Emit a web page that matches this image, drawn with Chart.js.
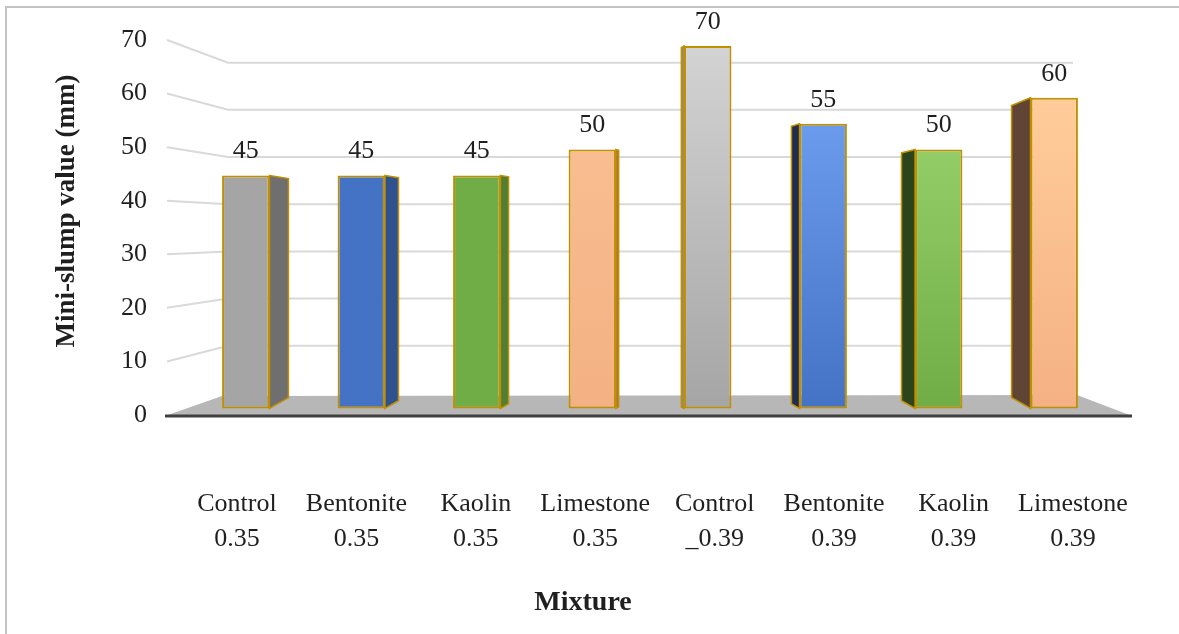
<!DOCTYPE html>
<html>
<head>
<meta charset="UTF-8" />
<title>Mini-slump value by mixture</title>
<script src="https://cdn.jsdelivr.net/npm/chart.js"></script>
<style>
  body { margin: 0; background: #fff; }
  #wrap { width: 1179px; height: 634px; }
</style>
</head>
<body>
<div id="wrap"><canvas id="chart" width="1179" height="634"></canvas></div>
<script>
const categories = [
  ["Control", "0.35"], ["Bentonite", "0.35"], ["Kaolin", "0.35"], ["Limestone", "0.35"],
  ["Control", "_0.39"], ["Bentonite", "0.39"], ["Kaolin", "0.39"], ["Limestone", "0.39"]
];
const slumpValues = [45, 45, 45, 50, 70, 55, 50, 60];
const yTicks = [0, 10, 20, 30, 40, 50, 60, 70];
const yTitle = "Mini-slump value (mm)";
const xTitle = "Mixture";

// front face gradient (top -> bottom) and side face colour for each bar
const frontTop = ["#a5a5a5", "#4472c4", "#70ad47", "#f8bd90", "#d3d3d3", "#6b9bec", "#93cd68", "#ffcc9a"];
const frontBottom = ["#a5a5a5", "#4472c4", "#70ad47", "#f4b183", "#a5a5a5", "#4472c4", "#70ad47", "#f5b183"];
const sideColors = ["#6f6f6f", "#2f528f", "#507e32", "#b07040", "#8a8a8a", "#1f2d4f", "#2c441b", "#614534"];
const gold = "#c09000";
const serif = "'Liberation Serif', 'Times New Roman', serif";
const textColor = "#1f1f1f";

const depthPlugin = {
  id: "depth",
  beforeDraw(chart) {
    const c = chart.ctx;
    c.save();
    c.fillStyle = "#fff";
    c.fillRect(0, 0, chart.width, chart.height);
    c.strokeStyle = "#c3c3c3";
    c.lineWidth = 2;
    c.beginPath();
    c.moveTo(6, chart.height);
    c.lineTo(6, 7);
    c.lineTo(chart.width, 7);
    c.stroke();
    c.restore();
  },
  beforeDatasetsDraw(chart) {
    const c = chart.ctx;
    const area = chart.chartArea;
    const y2 = chart.scales.y2;
    const backZero = area.bottom - 22;
    const backOf = (v) => backZero - (area.bottom - y2.getPixelForValue(v)) * 0.881;
    c.save();

    // back wall gridlines, bent at the left wall
    c.strokeStyle = "#d9d9d9";
    c.lineWidth = 2;
    yTicks.slice(1).forEach((v) => {
      c.beginPath();
      c.moveTo(area.left - 21, y2.getPixelForValue(v));
      c.lineTo(area.left + 40, backOf(v));
      c.lineTo(area.right - 39, backOf(v));
      c.stroke();
    });

    // floor
    c.fillStyle = "#b7b7b7";
    c.beginPath();
    c.moveTo(area.left - 23, area.bottom + 1);
    c.lineTo(area.left + 34, area.bottom - 19);
    c.lineTo(area.right - 35, area.bottom - 20);
    c.lineTo(area.right + 20, area.bottom + 1);
    c.closePath();
    c.fill();
    c.strokeStyle = "#404040";
    c.lineWidth = 3;
    c.beginPath();
    c.moveTo(area.left - 23, area.bottom + 1);
    c.lineTo(area.right + 20, area.bottom + 1);
    c.stroke();

    // side faces of the bars
    const vpX = (area.left + area.right) / 2;
    const vpY = (area.top + area.bottom) / 2;
    const meta = chart.getDatasetMeta(0);
    meta.data.forEach((bar, i) => {
      const d = vpX - bar.x;
      const w = Math.abs(d) * 0.047;
      const f = Math.abs(d) * 0.000149;
      const dir = d > 0 ? 1 : -1;
      const edge = bar.x + dir * bar.width / 2;
      c.fillStyle = sideColors[i];
      c.strokeStyle = gold;
      c.lineWidth = 1.5;
      c.beginPath();
      c.moveTo(edge, bar.y);
      c.lineTo(edge + dir * w, bar.y + (vpY - bar.y) * f);
      c.lineTo(edge + dir * w, bar.base + (vpY - bar.base) * f);
      c.lineTo(edge, bar.base);
      c.closePath();
      c.fill();
      c.stroke();
    });
    c.restore();
  },
  afterDatasetsDraw(chart) {
    const c = chart.ctx;
    c.save();
    c.fillStyle = textColor;
    c.font = "26px " + serif;
    c.textAlign = "center";
    c.textBaseline = "middle";
    chart.getDatasetMeta(0).data.forEach((bar, i) => {
      c.fillText(String(slumpValues[i]), bar.x, bar.y - 24);
    });
    c.restore();
  },
  afterDraw(chart) {
    const c = chart.ctx;
    c.save();
    c.fillStyle = textColor;
    c.textAlign = "center";
    c.textBaseline = "middle";
    c.font = "bold 28px " + serif;
    c.fillText(xTitle, 583, 603);
    c.translate(67, 211);
    c.rotate(-Math.PI / 2);
    c.font = "bold 27px " + serif;
    c.fillText(yTitle, 0, 0);
    c.restore();
  }
};

new Chart(document.getElementById("chart"), {
  type: "bar",
  data: {
    labels: categories.map((c) => c.join(" ")),
    datasets: [
      {
        data: slumpValues,
        backgroundColor: (ctx) => {
          const i = ctx.dataIndex;
          const chart = ctx.chart;
          const ys = chart.scales.y;
          if (!chart.chartArea || !ys || ctx.parsed == null) return frontBottom[i];
          const top = ys.getPixelForValue(ctx.parsed.y);
          const bottom = ys.getPixelForValue(0);
          if (!isFinite(top) || !isFinite(bottom)) return frontBottom[i];
          const g = chart.ctx.createLinearGradient(0, top, 0, bottom);
          g.addColorStop(0, frontTop[i]);
          g.addColorStop(1, frontBottom[i]);
          return g;
        },
        borderColor: gold,
        borderWidth: 2,
        borderSkipped: false,
        barPercentage: 0.41,
        categoryPercentage: 1
      }
    ]
  },
  options: {
    responsive: false,
    animation: false,
    layout: { padding: { left: 0, top: 40, right: 67, bottom: 0 } },
    plugins: { legend: { display: false }, tooltip: { enabled: false } },
    scales: {
      x: { display: false },
      y: { display: false, min: -1.255, max: 71.16 },
      y2: {
        position: "left",
        min: 0,
        max: 70,
        afterBuildTicks: (a) => { a.ticks = yTicks.map((v) => ({ value: v })); },
        afterFit: (a) => { a.width = 188; a.paddingTop = 0; a.paddingBottom = 0; },
        grid: { display: false, drawTicks: false },
        border: { display: false },
        ticks: { padding: 41, color: textColor, font: { family: serif, size: 26 } }
      },
      xl: {
        type: "linear",
        position: "bottom",
        offset: false,
        min: -0.41,
        max: 7.327,
        afterBuildTicks: (a) => { a.ticks = categories.map((_, i) => ({ value: i })); },
        afterFit: (a) => { a.height = 219; a.paddingLeft = 0; a.paddingRight = 0; },
        grid: { display: false, drawTicks: false },
        border: { display: false },
        ticks: {
          padding: 72,
          autoSkip: false,
          maxRotation: 0,
          color: textColor,
          font: { family: serif, size: 26, lineHeight: 1.35 },
          callback: (v) => categories[v]
        }
      }
    }
  },
  plugins: [depthPlugin]
});
</script>
</body>
</html>
